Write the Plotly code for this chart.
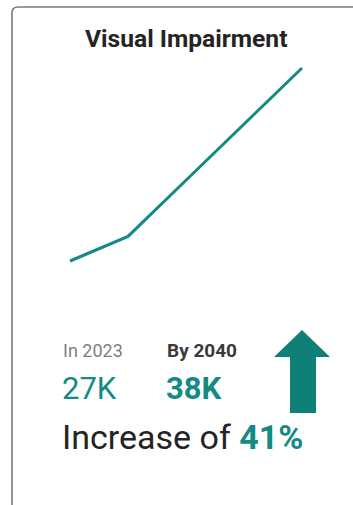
import plotly.graph_objects as go

# Data
years = ["2023", "2025", "2030", "2035", "2040"]
cases = [27000, 28400, 31600, 34800, 38000]
title_text = "Visual Impairment"
start_label = "In 2023"
end_label = "By 2040"
start_value = "27K"
end_value = "38K"
increase_pct = "41%"

W, H = 353, 505
TEAL = "#138A84"
DARK = "#252423"

def px(x):
    return x / W

def py(y):
    return 1 - y / H

fig = go.Figure()
fig.add_trace(go.Scatter(
    x=years, y=cases, mode="lines",
    line=dict(color=TEAL, width=3),
    hoverinfo="skip", showlegend=False,
))

font_family = "Roboto, 'DejaVu Sans', sans-serif"

annotations = [
    dict(text=f"<b>{title_text}</b>", x=px(185.5), y=py(39), xanchor="center", yanchor="middle",
         font=dict(size=24.6, color=DARK)),
    dict(text=start_label, x=px(61), y=py(350), xanchor="left", yanchor="middle",
         font=dict(size=18, color="#7f7f7f")),
    dict(text=f"<b>{end_label}</b>", x=px(165), y=py(350), xanchor="left", yanchor="middle",
         font=dict(size=19, color="#3a3a3a")),
    dict(text=start_value, x=px(60), y=py(388), xanchor="left", yanchor="middle",
         font=dict(size=31, color=TEAL)),
    dict(text=f"<b>{end_value}</b>", x=px(164), y=py(388), xanchor="left", yanchor="middle",
         font=dict(size=31, color=TEAL)),
    dict(text=f"Increase of <b><span style='color:{TEAL}'>{increase_pct}</span></b>",
         x=px(60), y=py(437), xanchor="left", yanchor="middle",
         font=dict(size=34, color=DARK)),
]
for a in annotations:
    a.update(xref="paper", yref="paper", showarrow=False)

def path(points, close=True):
    s = "M " + " L ".join(f"{px(x):.5f},{py(y):.5f}" for x, y in points)
    return s + (" Z" if close else "")

arrow_pts = [(290, 413), (290, 357), (274, 357), (302, 330), (330, 357), (316, 357), (316, 413)]
card_path = (f"M {px(12):.5f},{py(506):.5f} L {px(12):.5f},{py(13):.5f} "
             f"Q {px(12):.5f},{py(7):.5f} {px(18):.5f},{py(7):.5f} L {px(354):.5f},{py(7):.5f}")

shapes = [
    dict(type="path", path=card_path, xref="paper", yref="paper",
         line=dict(color="#7a7a7a", width=1.6)),
    dict(type="path", path=path(arrow_pts), xref="paper", yref="paper",
         fillcolor="#0F8078", line=dict(width=0)),
]

fig.update_layout(
    width=W, height=H,
    margin=dict(l=0, r=0, t=0, b=0),
    paper_bgcolor="white", plot_bgcolor="white",
    font=dict(family=font_family),
    xaxis=dict(domain=[60 / W, 312 / W], range=[-10 / 58, 4 + 10 / 58],
               visible=False, fixedrange=True),
    yaxis=dict(domain=[1 - 271 / H, 1 - 58 / H], range=[27000 - 10 * 11000 / 193, 38000 + 10 * 11000 / 193],
               visible=False, fixedrange=True),
    annotations=annotations,
    shapes=shapes,
    showlegend=False,
)

fig.write_html("out.html", config={"displayModeBar": False})
